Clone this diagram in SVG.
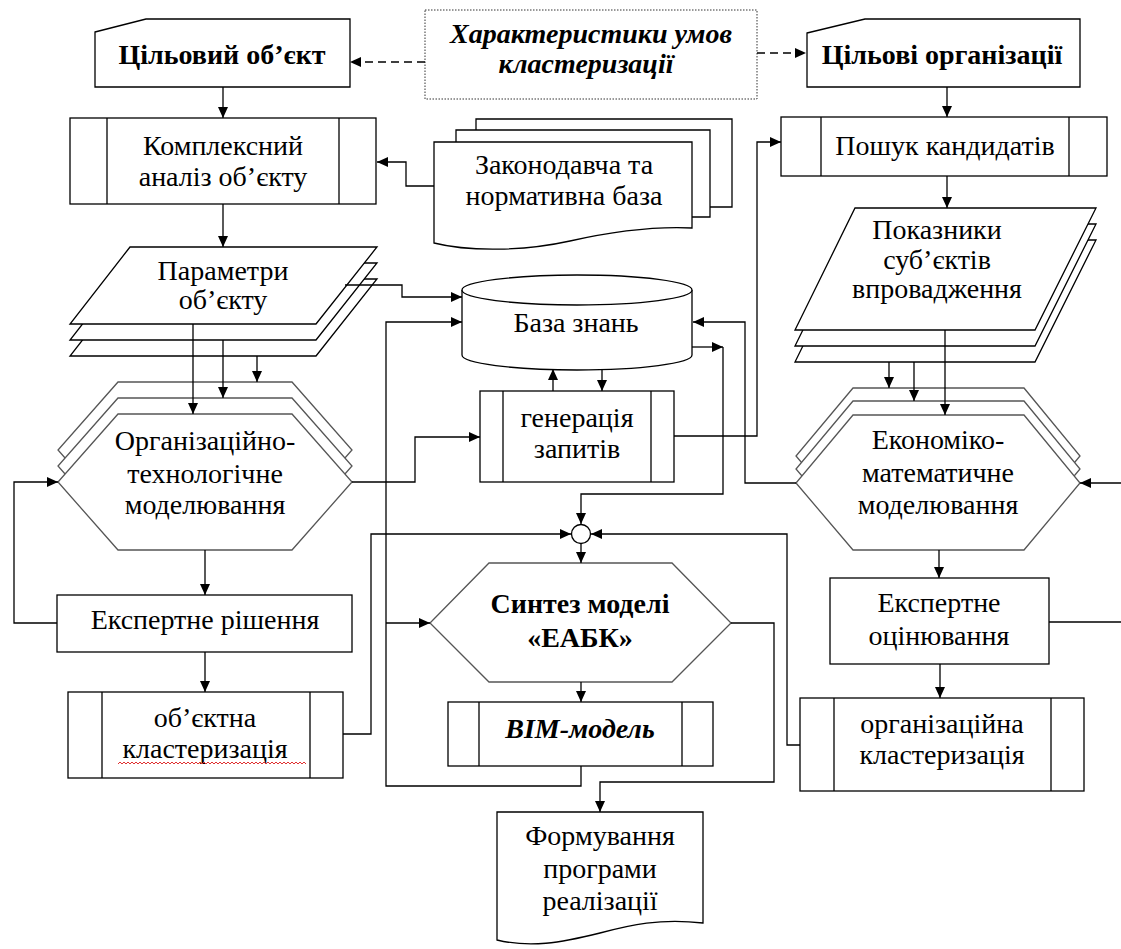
<svg xmlns="http://www.w3.org/2000/svg" width="1121" height="949" viewBox="0 0 1121 949">
<style>
.n{fill:#fff;stroke:#000;stroke-width:1.3}
.h{fill:#fff;stroke:#555;stroke-width:1.3}
.l{fill:none;stroke:#000;stroke-width:1.3}
.t{font-family:'Liberation Serif','Times New Roman',serif;font-size:28px;fill:#000;text-anchor:middle}
.b{font-weight:bold}
.i{font-style:italic}
.c line,.c path{fill:none;stroke:#000;stroke-width:1.3}
</style>
<defs>
<marker id="ah" viewBox="0 0 11 10" refX="11" refY="5" markerWidth="11" markerHeight="10" markerUnits="userSpaceOnUse" orient="auto"><path d="M0,0 L11,5 L0,10 Z" fill="#000"/></marker>
</defs>
<rect width="1121" height="949" fill="#fff"/>
<g id="conditions">
<rect x="425" y="10" width="332" height="89" fill="#fff" stroke="#333" stroke-width="1" stroke-dasharray="1.5,1.5"/>
<text class="t b i" x="591" y="43">Характеристики умов</text>
<text class="t b i" x="586" y="73">кластеризації</text>
</g>

<g id="target-object">
<polygon class="n" points="95,32 146,19 350,19 350,87 95,87"/>
<text class="t b" x="222" y="64">Цільовий об’єкт</text>
</g>

<g id="target-orgs">
<polygon class="n" points="807,33 865,19 1080,19 1080,87 807,87"/>
<text class="t b" x="942" y="64">Цільові організації</text>
</g>

<g id="complex-analysis">
<rect class="n" x="70" y="118" width="306" height="86"/>
<line class="l" x1="107" y1="118" x2="107" y2="204"/>
<line class="l" x1="339" y1="118" x2="339" y2="204"/>
<text class="t" x="223" y="155">Комплексний</text>
<text class="t" x="223" y="186">аналіз об’єкту</text>
</g>

<g id="legislation">
<path class="l" d="M476,130 V119 H732 V207 H710"/>
<path class="l" d="M456,142 V130 H710 V217 H692"/>
<path class="n" d="M434,142 H692 V228 C650,226 610,232 570,241 C525,251 470,252 434,243 Z"/>
<text class="t" x="564" y="174">Законодавча та</text>
<text class="t" x="564" y="205">нормативна база</text>
</g>

<g id="search">
<rect class="n" x="781" y="117" width="326" height="59"/>
<line class="l" x1="821" y1="117" x2="821" y2="176"/>
<line class="l" x1="1069" y1="117" x2="1069" y2="176"/>
<text class="t" x="945" y="155">Пошук кандидатів</text>
</g>

<g id="params">
<polygon class="n" points="130,279 377,279 316,356 70,356"/>
<polygon class="n" points="130,263 377,263 316,340 70,340"/>
<polygon class="n" points="130,247 377,247 316,324 70,324"/>
<text class="t" x="223" y="280">Параметри</text>
<text class="t" x="223" y="309">об’єкту</text>
</g>

<g id="indicators">
<polygon class="n" points="855,240 1096,240 1035,362 795,362"/>
<polygon class="n" points="855,224 1096,224 1035,346 795,346"/>
<polygon class="n" points="855,208 1096,208 1035,330 795,330"/>
<text class="t" x="937" y="239">Показники</text>
<text class="t" x="937" y="269">суб’єктів</text>
<text class="t" x="937" y="298">впровадження</text>
</g>

<g id="knowledge-base">
<path class="n" d="M462,290 V355 A115,15 0 0 0 692,355 V290"/>
<ellipse class="n" cx="577" cy="290" rx="115" ry="15"/>
<text class="t" x="576" y="332">База знань</text>
</g>

<g id="query-gen">
<rect class="n" x="480" y="391" width="194" height="91"/>
<line class="l" x1="503" y1="391" x2="503" y2="482"/>
<line class="l" x1="651" y1="391" x2="651" y2="482"/>
<text class="t" x="577" y="427">генерація</text>
<text class="t" x="577" y="458">запитів</text>
</g>

<g id="org-tech">
<polygon class="h" points="118,382 292,382 352,450 292,518 118,518 58,450"/>
<polygon class="h" points="118,398 292,398 352,466 292,534 118,534 58,466"/>
<polygon class="h" points="118,414 292,414 352,482 292,550 118,550 58,482"/>
<text class="t" x="205" y="450">Організаційно-</text>
<text class="t" x="205" y="483">технологічне</text>
<text class="t" x="205" y="514">моделювання</text>
</g>

<g id="econ-math">
<polygon class="h" points="853,388 1024,388 1080,456 1024,523 853,523 796,456"/>
<polygon class="h" points="853,401 1024,401 1080,469 1024,536 853,536 796,469"/>
<polygon class="h" points="853,415 1024,415 1080,483 1024,550 853,550 796,483"/>
<text class="t" x="938" y="449">Економіко-</text>
<text class="t" x="938" y="482">математичне</text>
<text class="t" x="938" y="514">моделювання</text>
</g>

<g id="junction">
<circle cx="581" cy="534" r="9.5" fill="#fff" stroke="#000" stroke-width="1.3"/>
</g>

<g id="expert-decision">
<rect class="n" x="57" y="595" width="295" height="57"/>
<text class="t" x="205" y="629">Експертне рішення</text>
</g>

<g id="synthesis">
<polygon class="h" points="489,563 672,563 731,623 672,682 489,682 430,623"/>
<text class="t b" x="580" y="613">Синтез моделі</text>
<text class="t b" x="580" y="647">«ЕАБК»</text>
</g>

<g id="expert-eval">
<rect class="n" x="830" y="578" width="219" height="86"/>
<text class="t" x="939" y="612">Експертне</text>
<text class="t" x="939" y="645">оцінювання</text>
</g>

<g id="object-clustering">
<rect class="n" x="68" y="692" width="275" height="86"/>
<line class="l" x1="102" y1="692" x2="102" y2="778"/>
<line class="l" x1="310" y1="692" x2="310" y2="778"/>
<text class="t" x="205" y="727">об’єктна</text>
<text class="t" x="205" y="758">кластеризація</text>
<path d="M118,764 l2,-2 l2,2 l2,-2 l2,2 l2,-2 l2,2 l2,-2 l2,2 l2,-2 l2,2 l2,-2 l2,2 l2,-2 l2,2 l2,-2 l2,2 l2,-2 l2,2 l2,-2 l2,2 l2,-2 l2,2 l2,-2 l2,2 l2,-2 l2,2 l2,-2 l2,2 l2,-2 l2,2 l2,-2 l2,2 l2,-2 l2,2 l2,-2 l2,2 l2,-2 l2,2 l2,-2 l2,2 l2,-2 l2,2 l2,-2 l2,2 l2,-2 l2,2 l2,-2 l2,2 l2,-2 l2,2 l2,-2 l2,2 l2,-2 l2,2 l2,-2 l2,2 l2,-2 l2,2 l2,-2 l2,2 l2,-2 l2,2 l2,-2 l2,2 l2,-2 l2,2 l2,-2 l2,2 l2,-2 l2,2 l2,-2 l2,2 l2,-2 l2,2 l2,-2 l2,2 l2,-2 l2,2 l2,-2 l2,2 l2,-2 l2,2 l2,-2 l2,2 l2,-2 l2,2 l2,-2 l2,2 l2,-2 l2,2 l2,-2 l2,2 l2,-2 l2,2" fill="none" stroke="#e03030" stroke-width="1"/>
</g>

<g id="bim">
<rect class="n" x="448" y="702" width="265" height="64"/>
<line class="l" x1="479" y1="702" x2="479" y2="766"/>
<line class="l" x1="682" y1="702" x2="682" y2="766"/>
<text class="t b i" x="580" y="738">BIM-модель</text>
</g>

<g id="org-clustering">
<rect class="n" x="800" y="698" width="284" height="93"/>
<line class="l" x1="834" y1="698" x2="834" y2="791"/>
<line class="l" x1="1051" y1="698" x2="1051" y2="791"/>
<text class="t" x="942" y="733">організаційна</text>
<text class="t" x="942" y="764">кластеризація</text>
</g>

<g id="program">
<path class="n" d="M497,812 H703 V923 C660,918 630,925 600,933 C560,943 530,948 497,940 Z"/>
<text class="t" x="600" y="845">Формування</text>
<text class="t" x="600" y="878">програми</text>
<text class="t" x="600" y="910">реалізації</text>
</g>

<g id="connectors" class="c">
<path d="M425,62 H350" stroke-dasharray="8,5" marker-end="url(#ah)"/>
<path d="M757,53 H806" stroke-dasharray="8,5" marker-end="url(#ah)"/>
<path d="M223,87 V118" marker-end="url(#ah)"/>
<path d="M947,87 V117" marker-end="url(#ah)"/>
<path d="M434,186 H406 V162 H377" marker-end="url(#ah)"/>
<path d="M223,204 V247" marker-end="url(#ah)"/>
<path d="M947,176 V208" marker-end="url(#ah)"/>
<path d="M674,436 H757 V142 H781" marker-end="url(#ah)"/>
<path d="M345,285 H402 V297 H462" marker-end="url(#ah)"/>
<path d="M581,766 V786 H386 V322 H462" marker-end="url(#ah)"/>
<path d="M386,623 H430" marker-end="url(#ah)"/>
<path d="M193,324 V414" marker-end="url(#ah)"/>
<path d="M223,340 V398" marker-end="url(#ah)"/>
<path d="M257,356 V382" marker-end="url(#ah)"/>
<path d="M889,362 V388" marker-end="url(#ah)"/>
<path d="M914,362 V401" marker-end="url(#ah)"/>
<path d="M945,330 V415" marker-end="url(#ah)"/>
<path d="M352,482 H415 V437 H480" marker-end="url(#ah)"/>
<path d="M553,391 V369" marker-end="url(#ah)"/>
<path d="M602,369 V391" marker-end="url(#ah)"/>
<path d="M796,483 H745 V322 H693" marker-end="url(#ah)"/>
<path d="M692,347 H723" marker-end="url(#ah)"/>
<path d="M723,347 V494 H581 V524" marker-end="url(#ah)"/>
<path d="M343,734 H371 V534 H571" marker-end="url(#ah)"/>
<path d="M800,745 H787 V534 H591" marker-end="url(#ah)"/>
<path d="M581,544 V563" marker-end="url(#ah)"/>
<path d="M731,623 H774 V782 H600 V812" marker-end="url(#ah)"/>
<path d="M581,682 V702" marker-end="url(#ah)"/>
<path d="M205,550 V595" marker-end="url(#ah)"/>
<path d="M57,623 H14 V482 H58" marker-end="url(#ah)"/>
<path d="M205,652 V692" marker-end="url(#ah)"/>
<path d="M939,550 V578" marker-end="url(#ah)"/>
<path d="M940,664 V698" marker-end="url(#ah)"/>
<path d="M1049,622 H1121"/>
<path d="M1121,483 H1080" marker-end="url(#ah)"/>
</g>
</svg>
